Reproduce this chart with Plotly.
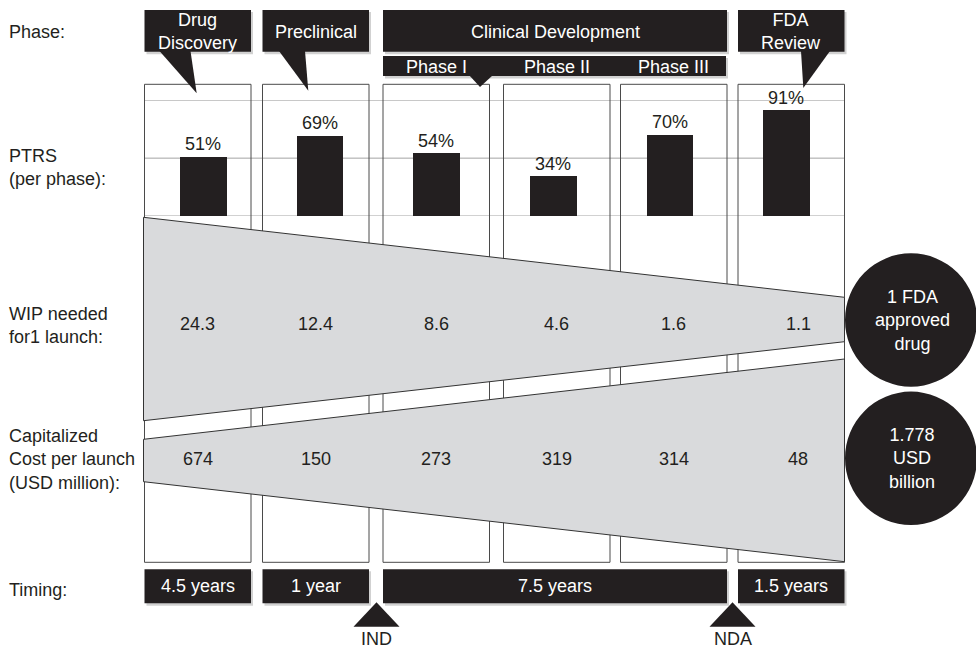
import plotly.graph_objects as go

# ---- data -------------------------------------------------------------
phases = ["Drug<br>Discovery", "Preclinical", "Clinical Development", "FDA<br>Review"]
clinical_subphases = ["Phase I", "Phase II", "Phase III"]
ptrs_pct = [51, 69, 54, 34, 70, 91]
ptrs_grid = [0, 50, 100]
wip_needed = ["24.3", "12.4", "8.6", "4.6", "1.6", "1.1"]
capitalized_cost = ["674", "150", "273", "319", "314", "48"]
timing = ["4.5 years", "1 year", "7.5 years", "1.5 years"]
milestones = ["IND", "NDA"]
row_labels = ["Phase:", "PTRS<br>(per phase):", "WIP needed<br>for1 launch:",
              "Capitalized<br>Cost per launch<br>(USD million):", "Timing:"]
outcomes = ["1 FDA<br>approved<br>drug", "1.778<br>USD<br>billion"]

# ---- layout constants (canvas pixels) -----------------------------------
W, H = 976, 649
BLACK = "#231f20"
GREY_FILL = "#d9dadc"
EDGE = "#4a4a4a"
FONT = "Liberation Sans, Arial, Helvetica, sans-serif"
FS = 18

col_left = [144.5, 262.5, 383, 503.5, 620.5, 738]
col_w = 106.5
col_c = [x + col_w / 2 for x in col_left]
box_top, box_bot = 84.3, 562.3

bar_y0, bar_y1 = 216.0, 100.3          # pixel rows for 0 % and 100 %

fig = go.Figure()

# PTRS bars on their own axis pair
fig.add_trace(go.Bar(
    x=list(range(len(ptrs_pct))), y=ptrs_pct, width=0.4,
    marker=dict(color=BLACK, line=dict(width=0)),
    xaxis="x2", yaxis="y2", hoverinfo="skip", showlegend=False,
))
# invisible anchor trace for the pixel canvas axes
fig.add_trace(go.Scatter(x=[0, W], y=[0, H], mode="markers",
                         marker=dict(opacity=0), hoverinfo="skip", showlegend=False))

shapes = []
annotations = []

# PTRS reference lines (0 %, 50 %, 100 %) under the bars
for g in ptrs_grid:
    shapes.append(dict(type="line", xref="x2 domain", yref="y2", x0=0, x1=1, y0=g, y1=g,
                       line=dict(color="#a3a3a3", width=1), layer="below"))


def rect(x0, y0, x1, y1, fill, line_color=None, lw=0):
    shapes.append(dict(type="rect", xref="x", yref="y", x0=x0, y0=y0, x1=x1, y1=y1,
                       fillcolor=fill, line=dict(color=line_color or fill, width=lw),
                       layer="above"))


def path(d, fill, line_color=None, lw=0):
    shapes.append(dict(type="path", xref="x", yref="y", path=d, fillcolor=fill,
                       line=dict(color=line_color or fill, width=lw), layer="above"))


def label(x, y, text, color=BLACK, xanchor="center", size=FS, xref="x", yref="y", yshift=0):
    annotations.append(dict(x=x, y=y, xref=xref, yref=yref, text=text, showarrow=False,
                            xanchor=xanchor, yanchor="middle", yshift=yshift,
                            font=dict(family=FONT, size=size, color=color),
                            align=xanchor if xanchor != "center" else "center"))


def shadowed_box(x0, y0, x1, y1):
    rect(x0 + 2, y0 + 2, x1 + 2, y1 + 2.5, "rgba(0,0,0,0.18)")
    rect(x0, y0, x1, y1, BLACK)


# column outlines
for x in col_left:
    rect(x, box_top, x + col_w, box_bot, "rgba(0,0,0,0)", EDGE, 1)

# WIP and cost funnels
fx0, fx1 = 143.5, 844.5
path(f"M{fx0},217.3 L{fx1},297.3 L{fx1},341.7 L{fx0},420.7 Z", GREY_FILL, "#333333", 1)
path(f"M{fx0},439.3 L{fx1},359.0 L{fx1},561.7 L{fx0},481.7 Z", GREY_FILL, "#333333", 1)

# phase header callouts
hdr_top, hdr_bot = 10, 51.7
hdr_spans = [(col_left[0], col_left[0] + col_w), (col_left[1], col_left[1] + col_w),
             (col_left[2], col_left[4] + col_w), (col_left[5], col_left[5] + col_w)]
for x0, x1 in hdr_spans:
    shadowed_box(x0, hdr_top, x1, hdr_bot)
shadowed_box(col_left[2], 56, col_left[4] + col_w - 1, 76)
# callout tails
path("M159.5,51 L190.5,51 L196.7,93.3 Z", BLACK)
path("M279,51 L305,51 L308.3,90.7 Z", BLACK)
path("M469,75 L493,75 L480,87 Z", BLACK)
path("M801,51 L830,51 L803.3,88 Z", BLACK)

hdr_y = [31, 32, 32, 31]
for (x0, x1), txt, yy in zip(hdr_spans, phases, hdr_y):
    label((x0 + x1) / 2, yy, txt, color="white")
for i, txt in enumerate(clinical_subphases):
    label(col_c[2 + i], 66.5, txt, color="white")

# PTRS value labels, placed from the bar values on the bar axes
for i, v in enumerate(ptrs_pct):
    label(i, v, f"{v}%", xref="x2", yref="y2", yshift=13)

# WIP and cost values
val_dx = [0, 0, 0, 0, 0, 7]
for i, v in enumerate(wip_needed):
    label(col_c[i] + val_dx[i], 324, v)
for i, v in enumerate(capitalized_cost):
    label(col_c[i] + val_dx[i], 458.5, v)

# outcome circles
for (cy, txt) in zip([320.0, 458.3], outcomes):
    shapes.append(dict(type="circle", xref="x", yref="y", x0=845, x1=977,
                       y0=cy - 66.7, y1=cy + 66.7, fillcolor=BLACK,
                       line=dict(color=BLACK, width=0), layer="above"))
    label(912, cy, txt, color="white")

# timing bar
t_top, t_bot = 569.3, 603.3
t_spans = [(col_left[0], col_left[0] + col_w), (col_left[1], col_left[1] + col_w),
           (col_left[2], col_left[4] + col_w), (col_left[5], col_left[5] + col_w)]
for (x0, x1), txt in zip(t_spans, timing):
    shadowed_box(x0, t_top, x1, t_bot)
    label((x0 + x1) / 2, 586, txt, color="white")

# milestone markers
for cx, txt in zip([376.5, 732.5], milestones):
    path(f"M{cx - 23},626.7 L{cx},602.3 L{cx + 23},626.7 Z", BLACK)
    label(cx, 638.5, txt)

# row captions
for txt, yy in zip(row_labels, [31.7, 167.5, 325, 459.3, 590]):
    label(7, yy, txt, xanchor="left")

fig.update_layout(
    width=W, height=H, margin=dict(l=0, r=0, t=0, b=0),
    paper_bgcolor="white", plot_bgcolor="rgba(0,0,0,0)",
    showlegend=False, shapes=shapes, annotations=annotations,
    xaxis=dict(range=[0, W], domain=[0, 1], visible=False, fixedrange=True),
    yaxis=dict(range=[H, 0], domain=[0, 1], visible=False, fixedrange=True),
    xaxis2=dict(range=[-0.5, 5.5], domain=[144.5 / W, 844.5 / W], anchor="y2",
                showgrid=False, zeroline=False, showticklabels=False, ticks="",
                showline=False, fixedrange=True),
    yaxis2=dict(range=[0, 100], domain=[(H - bar_y0) / H, (H - bar_y1) / H], anchor="x2",
                showgrid=False, zeroline=False, showticklabels=False, ticks="",
                showline=False, fixedrange=True),
    bargap=0,
)

fig.write_html("out.html")
